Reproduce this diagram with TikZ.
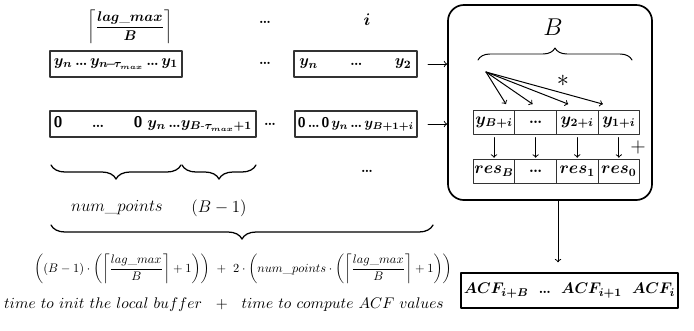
\documentclass[tikz,border=0pt]{standalone}
\usepackage{amsmath,bm}
\usetikzlibrary{positioning,calc,decorations.pathreplacing}

\begin{document}
\begin{tikzpicture}[
  x=0.025cm,
  y=-0.025cm,
  line cap=round,
  line join=round,
  buf box/.style={draw=black!80, line width=0.8pt, minimum height=0.65cm,
    inner sep=0pt, outer sep=0pt, font=\fontsize{11}{13}\selectfont},
  cell/.style={draw=black!80, line width=0.7pt, minimum width=1.04cm,
    minimum height=0.62cm, inner sep=0pt, outer sep=0pt, font=\large},
  feed arrow/.style={->, line width=0.7pt},
  span brace/.style={decorate, line width=0.9pt,
    decoration={brace, mirror, amplitude=0.35cm}},
  top brace/.style={decorate, line width=0.7pt,
    decoration={brace, amplitude=0.3cm}}
]
  \useasboundingbox (0,0) rectangle (694,330);

  % Column headers above the per-thread windows.
  \node[inner sep=0pt] (ceil) at (130,27)
    {$\left\lceil\dfrac{\bm{lag\_max}}{\bm{B}}\right\rceil$};
  \node (hdots) at (265,22) {\textbf{\dots}};
  \node[font=\large] (hidx) at (367,20) {$\bm{i}$};

  % First row: windows read straight from the series.
  \node[buf box, minimum width=3.3cm] (win0) at (116,64)
    {\makebox[3.1cm]{$\bm{y_n}$\hfill\textbf{\dots}\hfill
      $\bm{y_{n\!-\!\tau_{max}}}$\hfill\textbf{\dots}\hfill$\bm{y_1}$}};
  \node (wdots) at (265,63) {\textbf{\dots}};
  \node[buf box, minimum width=3.075cm] (win1) at (355.5,64)
    {\makebox[2.8cm]{$\bm{y_n}$\hfill\textbf{\dots}\hfill$\bm{y_2}$}};

  % Second row: the same windows padded with leading zeros.
  \node[buf box, minimum width=5.15cm] (pad0) at (153,124)
    {\makebox[4.95cm]{\textbf{\sffamily 0}\hfill\textbf{\dots}\hfill
      \textbf{\sffamily 0}\ $\bm{y_n}$\,\textbf{\dots}$\bm{y_{B\text{-}\tau_{max}+1}}$}};
  \node (pdots) at (270,124) {\textbf{\dots}};
  \node[buf box, minimum width=3.05cm, font=\normalsize] (pad1) at (356,124)
    {\makebox[2.9cm]{\textbf{\sffamily 0}\hfill\textbf{\dots}\hfill\textbf{\sffamily 0}\hfill$\bm{y_n}$\hfill\textbf{\dots}\hfill$\bm{y_{B+1+i}}$}};

  % Thread block with its local buffer and partial results.
  \node[draw, line width=1.2pt, rounded corners=0.4cm, minimum width=5.1cm,
    minimum height=4.875cm] (kernel) at (550,102.5) {};
  \draw[feed arrow] ([xshift=0.275cm]win1.east) -- (win1.east -| kernel.west);
  \draw[feed arrow] ([xshift=0.275cm]pad1.east) -- (pad1.east -| kernel.west);

  \node[font=\LARGE] (blabel) at (553,27) {$B$};
  \draw[top brace] (478,60) -- (632,60);

  \node[cell] (yB) at (494,122.5) {$\bm{y_{B+i}}$};
  \node[cell, right=0pt of yB] (ydots) {\textbf{\dots}};
  \node[cell, right=0pt of ydots] (y2) {$\bm{y_{2+i}}$};
  \node[cell, right=0pt of y2] (y1) {$\bm{y_{1+i}}$};

  \node[cell] (resB) at (494,171.5) {$\bm{res_B}$};
  \node[cell, right=0pt of resB] (resdots) {\textbf{\dots}};
  \node[cell, right=0pt of resdots] (res1) {$\bm{res_1}$};
  \node[cell, right=0pt of res1] (res0) {$\bm{res_0}$};

  % One sample multiplied against every entry of the buffer.
  \coordinate (fan) at (486,72);
  \draw[feed arrow] (fan) -- ($(yB.north)+(12,-6)$);
  \draw[feed arrow] (fan) -- ($(ydots.north)+(-3,-6)$);
  \draw[feed arrow] (fan) -- ($(y2.north)+(-9,-6)$);
  \draw[feed arrow] (fan) -- ($(y1.north)+(-16,-6)$);
  \node[font=\LARGE] (mul) at (563,81) {$*$};

  \foreach \src/\dst in {yB/resB, ydots/resdots, y2/res1, y1/res0}
    \draw[feed arrow, shorten <=2pt, shorten >=1pt] (\src) -- (\dst);
  \node[font=\Large] (acc) at (638,147) {$+$};

  % Results written back to the ACF array.
  \node[draw, line width=1pt, minimum width=5.225cm, minimum height=0.875cm,
    inner sep=2pt, font=\fontsize{11}{13}\selectfont] (acf) at (569.5,290.5)
    {$\bm{ACF_{i+B}}$\ \ \textbf{\dots}\ \ $\bm{ACF_{i+1}}$\ \ $\bm{ACF_i}$};
  \draw[feed arrow, shorten >=0.25cm] ([xshift=0.2cm]kernel.south)
    -- ([xshift=0.2cm]kernel.south |- acf.north);

  % Cost of a single thread.
  \draw[span brace] (51,165) -- (181,165);
  \draw[span brace] (182,165) -- (256,165);
  \node (bdots) at (367,171) {\textbf{\dots}};
  \node[font=\large] (npts) at (117,208) {$num\_points$};
  \node[font=\large] (bm1) at (219,208) {$(B-1)$};
  \draw[span brace] (51,225) -- (433,225);

  \node[scale=0.88] (cost) at (243,269)
    {$\left((B-1)\cdot\left(\left\lceil\dfrac{lag\_max}{B}\right\rceil+1\right)\right)\ +\ 
      2\cdot\left(num\_points\cdot\left(\left\lceil\dfrac{lag\_max}{B}\right\rceil+1\right)\right)$};
  \node[font=\fontsize{11.3}{13}\selectfont] (costtext) at (224,305)
    {$time\ to\ init\ the\ local\ buffer\ \ +\ \ time\ to\ compute\ ACF\ values$};
\end{tikzpicture}
\end{document}
